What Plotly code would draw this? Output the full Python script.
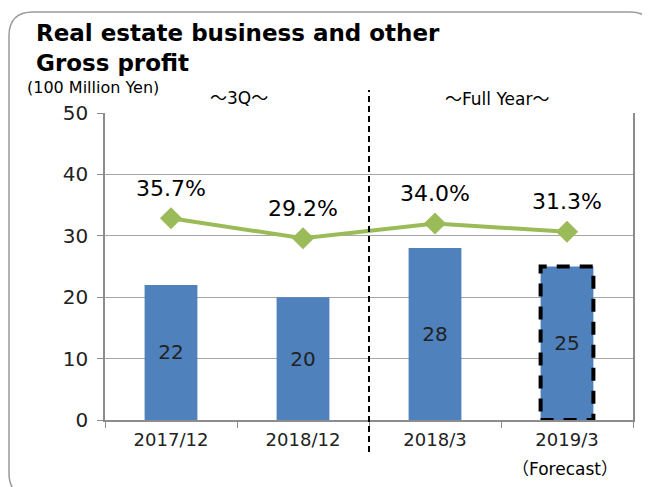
import plotly.graph_objects as go

# ---- data ----
categories = ["2017/12", "2018/12", "2018/3", "2019/3"]
gross_profit = [22, 20, 28, 25]
margin_pct = [35.7, 29.2, 34.0, 31.3]
forecast_index = 3
group_labels = ["～3Q～", "～Full Year～"]

# page has an 8px body margin; size figure so that it fills the 650x487 window
OFF = 8
W, H = 650 - OFF, 487 - OFF
PW, PH = 528, 307
L, T = 105 - OFF, 113 - OFF
R, B = W - L - PW, H - T - PH


def px_x(px):  # reference-image pixel -> paper
    return (px - OFF - L) / PW


def px_y(py):
    return (T + PH - (py - OFF)) / PH


BAR_W = 0.4
font_txt = "DejaVu Sans, Noto Sans CJK JP"
font_num = "DejaVu Sans"

fig = go.Figure()
fig.add_trace(go.Bar(
    x=categories, y=gross_profit, width=BAR_W,
    marker=dict(color="#4F81BD", line=dict(width=0)),
    text=[str(v) for v in gross_profit], textposition="inside",
    insidetextanchor="middle",
    textfont=dict(family=font_num, size=20, color="#222222"),
    showlegend=False, hoverinfo="skip",
))
fig.add_trace(go.Scatter(
    x=categories, y=margin_pct, yaxis="y2", mode="lines+markers",
    line=dict(color="#9BBB59", width=4),
    marker=dict(symbol="diamond", size=17, color="#9BBB59"),
    showlegend=False, hoverinfo="skip",
))

annotations = []
for c, p in zip(categories, margin_pct):
    annotations.append(dict(
        x=c, y=p, xref="x", yref="y2", text=f"{p:.1f}%", showarrow=False,
        yshift=30, font=dict(family=font_num, size=22, color="#000000"),
    ))


def pap(text, cx, cy, size, bold=False, xanchor="center"):
    return dict(
        x=px_x(cx), y=px_y(cy), xref="paper", yref="paper",
        text=f"<b>{text}</b>" if bold else text, showarrow=False,
        xanchor=xanchor, yanchor="middle",
        font=dict(family=font_txt, size=size, color="#000000"),
    )


annotations += [
    pap("Real estate business and other", 34, 33, 23, bold=True, xanchor="left"),
    pap("Gross profit", 34, 63, 23, bold=True, xanchor="left"),
    pap("(100 Million Yen)", 93, 88, 16),
    pap(group_labels[0], 239, 98, 17),
    pap(group_labels[1], 497, 99, 17),
    pap("（Forecast）", 565, 469, 17),
]

# rounded frame (reference pixel coordinates)
x0, x1, y0, y1, r = 9, 654, 12, 497, 24


def P(px, py):
    return f"{px_x(px):.5f},{px_y(py):.5f}"


frame_path = (
    f"M {P(x0, y1 - r)} L {P(x0, y0 + r)} Q {P(x0, y0)} {P(x0 + r, y0)} "
    f"L {P(x1 - r, y0)} Q {P(x1, y0)} {P(x1, y0 + r)} "
    f"L {P(x1, y1 - r)} Q {P(x1, y1)} {P(x1 - r, y1)} "
    f"L {P(x0 + r, y1)} Q {P(x0, y1)} {P(x0, y1 - r)} Z"
)

shapes = [
    dict(type="path", path=frame_path, xref="paper", yref="paper",
         line=dict(color="#9a9a9a", width=1.5), layer="below"),
    dict(type="line", xref="x", yref="paper", x0=1.5, x1=1.5,
         y0=px_y(452), y1=px_y(90), line=dict(color="#000000", width=2, dash="6px,4px")),
    dict(type="rect", xref="x", yref="y",
         x0=forecast_index - BAR_W / 2, x1=forecast_index + BAR_W / 2,
         y0=0, y1=gross_profit[forecast_index],
         line=dict(color="#000000", width=4, dash="13px,10px")),
]

fig.update_layout(
    width=W, height=H,
    margin=dict(l=L, r=R, t=T, b=B, pad=0),
    paper_bgcolor="white", plot_bgcolor="white",
    bargap=0.6,
    xaxis=dict(
        type="category", showline=True, linecolor="#8c8c8c", linewidth=1.5,
        ticks="outside", tickson="boundaries", ticklen=6, tickcolor="#8c8c8c",
        tickfont=dict(family=font_num, size=18, color="#222222"),
        ticklabelstandoff=3,
        showgrid=False, mirror=False,
    ),
    yaxis=dict(
        range=[0, 50], dtick=10, showline=True, linecolor="#8c8c8c", linewidth=1.5,
        mirror=True, ticks="outside", ticklen=6, tickcolor="#8c8c8c",
        showgrid=True, gridcolor="#a6a6a6", gridwidth=1.2,
        tickfont=dict(family=font_num, size=20, color="#222222"),
        ticklabelstandoff=5,
        zeroline=False,
    ),
    yaxis2=dict(range=[-30, 70], overlaying="y", visible=False),
    annotations=annotations,
    shapes=shapes,
)

fig.write_html("out.html")
